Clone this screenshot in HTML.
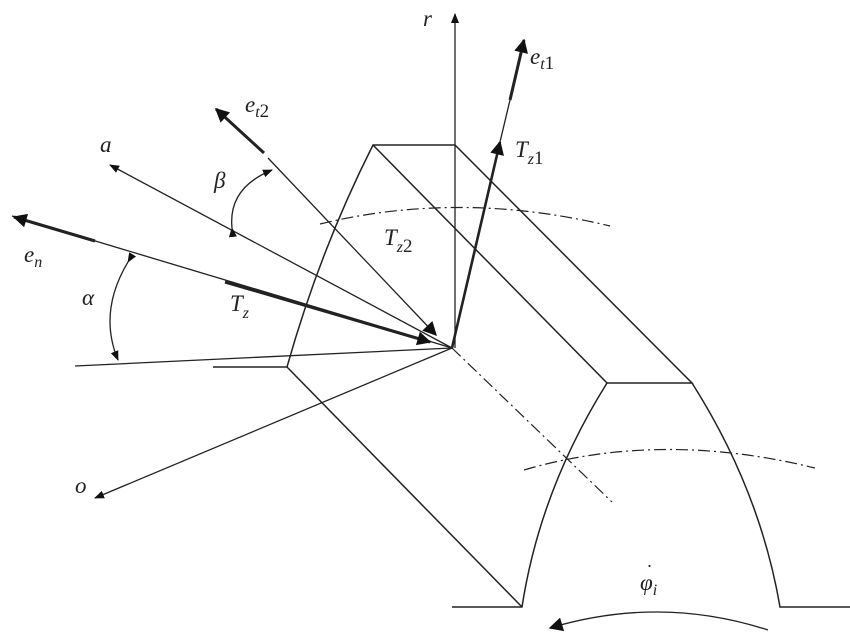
<!DOCTYPE html>
<html><head><style>html,body{margin:0;padding:0;background:#fff}svg{display:block}
text{font-family:"Liberation Serif",serif;font-style:italic;fill:#222}</style></head>
<body>
<svg width="850" height="641" viewBox="0 0 850 641" xmlns="http://www.w3.org/2000/svg">
<defs>
<marker id="a" viewBox="0 0 10 10" refX="9" refY="5" markerWidth="10" markerHeight="10" markerUnits="userSpaceOnUse" orient="auto"><path d="M0,1 L10,5 L0,9 z" fill="#111"/></marker>
<marker id="b" viewBox="0 0 10 10" refX="9" refY="5" markerWidth="20" markerHeight="14" markerUnits="userSpaceOnUse" orient="auto"><path d="M0,0 L10,5 L0,10 z" fill="#111"/></marker>
</defs>
<g stroke="#222" fill="none" stroke-width="1.5">
<path d="M213,367 L287,367 Q320,250 373,145 L455,145 L692,383 L607,383 L373,145"/>
<path d="M287,367 L522,607"/>
<path d="M607,383 Q540,490 522,607 L452,607"/>
<path d="M692,383 Q760,490 780,607 L850,607"/>
<path d="M320,224 Q460,190 610,226" stroke-dasharray="12,4,2,4" stroke-width="1.2"/>
<path d="M524,470 Q660,430 815,468" stroke-dasharray="12,4,2,4" stroke-width="1.2"/>
<path d="M452,348 L612,502" stroke-dasharray="12,4,2,4" stroke-width="1.2"/>
<path d="M455,348 L455,14" marker-end="url(#a)" stroke-width="1.3"/>
<path d="M452,348 L110,165" marker-end="url(#a)" stroke-width="1.3"/>
<path d="M452,348 L95,498" marker-end="url(#a)" stroke-width="1.3"/>
<path d="M75,366 L452,348" stroke-width="1.3"/>
<path d="M452,348 L12,216" stroke-width="1.3"/>
<path d="M95,241 L14,217" stroke-width="3" marker-end="url(#b)"/>
<path d="M225,282 L430,342" stroke-width="3" marker-end="url(#b)"/>
<path d="M268,158 L436,335" stroke-width="1.3" marker-end="url(#b)"/>
<path d="M264,153 L216,109" stroke-width="3" marker-end="url(#b)"/>
<path d="M452,348 L500,142" stroke-width="2.6" marker-end="url(#b)"/>
<path d="M500,142 L510,100" stroke-width="1.3"/>
<path d="M510,100 L524,40" stroke-width="3" marker-end="url(#b)"/>
<path d="M128,262 Q98,312 118,360" stroke-width="1.3" marker-start="url(#a)" marker-end="url(#a)"/>
<path d="M232,228 Q228,188 272,170" stroke-width="1.3" marker-start="url(#a)" marker-end="url(#a)"/>
<path d="M768,630 Q660,595 550,628" stroke-width="1.3" marker-end="url(#b)"/>
</g>
<g font-size="23">
<text x="423" y="26">r</text>
<text x="530" y="64">e<tspan font-size="16" dy="5">t</tspan><tspan font-style="normal" font-size="19">1</tspan></text>
<text x="245" y="112">e<tspan font-size="16" dy="5">t</tspan><tspan font-style="normal" font-size="19">2</tspan></text>
<text x="100" y="152">a</text>
<text x="24" y="262">e<tspan font-size="16" dy="5">n</tspan></text>
<text x="75" y="493">o</text>
<text x="515" y="157">T<tspan font-size="16" dy="7">z</tspan><tspan font-style="normal" font-size="19">1</tspan></text>
<text x="384" y="245">T<tspan font-size="16" dy="7">z</tspan><tspan font-style="normal" font-size="19">2</tspan></text>
<text x="230" y="311">T<tspan font-size="16" dy="7">z</tspan></text>
<text x="82" y="305" font-style="normal">α</text>
<text x="214" y="188" font-style="normal">β</text>
<text x="640" y="590" font-style="normal">φ<tspan font-style="italic" font-size="16" dy="5">i</tspan></text>
<text x="647" y="572" font-style="normal" font-size="18">·</text>
</g>
</svg>
</body></html>
